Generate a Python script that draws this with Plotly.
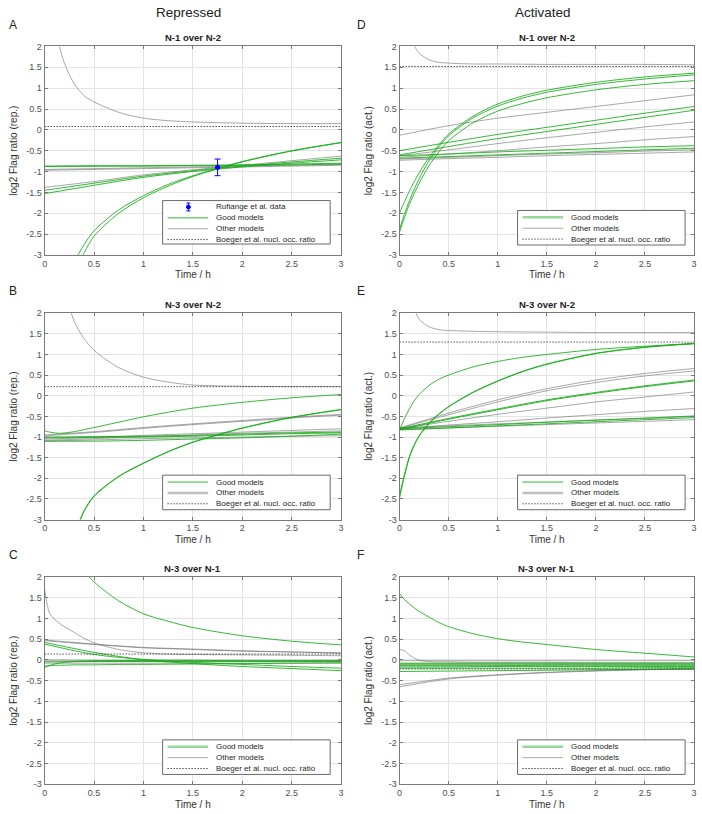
import plotly.graph_objects as go

# ---------------- data ----------------
T_FINE = [0, 0.05, 0.1, 0.15, 0.2, 0.3, 0.4, 0.5, 0.75, 1, 1.25, 1.5, 2, 2.5, 3]
T_COARSE = [0, 0.5, 1, 1.5, 2, 2.5, 3]
T_REF = [0, 3]

X_TICKS = [0, 0.5, 1, 1.5, 2, 2.5, 3]
X_TICK_TEXT = ["0", "0.5", "1", "1.5", "2", "2.5", "3"]
Y_TICKS = [-3, -2.5, -2, -1.5, -1, -0.5, 0, 0.5, 1, 1.5, 2]
Y_TICK_TEXT = ["-3", "-2.5", "-2", "-1.5", "-1", "-0.5", "0", "0.5", "1", "1.5", "2"]

# Panel A: repressed, N-1 over N-2
A_other_fine = [[4.3, 3.3, 2.5, 2.0, 1.6, 1.1, 0.82, 0.67, 0.42, 0.28, 0.22, 0.19, 0.16, 0.15, 0.15]]
A_other_coarse = [
    [-0.97, -0.95, -0.93, -0.91, -0.89, -0.87, -0.85],
    [-0.95, -0.93, -0.91, -0.89, -0.87, -0.85, -0.83],
    [-1.38, -1.24, -1.08, -0.96, -0.85, -0.74, -0.63],
]
A_good_fine = [
    [-9.0, -7.5, -6.2, -5.1, -4.2, -3.2, -2.75, -2.42, -1.92, -1.58, -1.31, -1.1, -0.76, -0.5, -0.3],
    [-9.5, -8.0, -6.7, -5.6, -4.6, -3.5, -2.95, -2.55, -2.0, -1.63, -1.35, -1.12, -0.77, -0.51, -0.31],
]
A_good_coarse = [
    [-0.87, -0.86, -0.86, -0.85, -0.84, -0.82, -0.80],
    [-0.88, -0.875, -0.87, -0.86, -0.85, -0.84, -0.82],
    [-1.45, -1.28, -1.11, -0.98, -0.87, -0.77, -0.68],
    [-1.53, -1.33, -1.14, -1.0, -0.89, -0.80, -0.72],
]
A_ref = 0.08
A_data_t = [1.75]
A_data_y = [-0.9]
A_data_err = [0.2]

# Panel B: repressed, N-3 over N-2
B_other_fine = [[6.0, 5.0, 4.1, 3.3, 2.6, 1.8, 1.38, 1.1, 0.68, 0.45, 0.33, 0.26, 0.23, 0.22, 0.22]]
B_other_coarse = [
    [-0.95, -0.87, -0.77, -0.68, -0.60, -0.52, -0.45],
    [-0.97, -0.89, -0.79, -0.70, -0.62, -0.54, -0.47],
    [-1.05, -1.01, -0.96, -0.92, -0.88, -0.84, -0.80],
    [-1.08, -1.04, -0.99, -0.95, -0.91, -0.88, -0.85],
    [-1.10, -1.07, -1.04, -1.02, -1.0, -0.98, -0.97],
]
B_good_fine = [
    [-0.85, -0.88, -0.9, -0.91, -0.9, -0.87, -0.82, -0.77, -0.64, -0.51, -0.4, -0.3, -0.16, -0.05, 0.03],
    [-10.0, -8.5, -7.0, -5.8, -4.8, -3.4, -2.78, -2.42, -1.95, -1.63, -1.35, -1.12, -0.78, -0.52, -0.33],
    [-10.2, -8.7, -7.2, -5.9, -4.9, -3.45, -2.8, -2.44, -1.96, -1.64, -1.36, -1.13, -0.79, -0.53, -0.34],
]
B_good_coarse = [
    [-1.0, -0.99, -0.98, -0.96, -0.93, -0.9, -0.88],
    [-1.02, -1.01, -1.0, -0.98, -0.95, -0.92, -0.9],
    [-1.1, -1.1, -1.08, -1.05, -1.02, -0.98, -0.93],
]
B_ref = 0.22

# Panel C: repressed, N-3 over N-1
C_other_fine = [[1.7, 1.12, 0.98, 0.88, 0.8, 0.66, 0.52, 0.41, 0.25, 0.17, 0.14, 0.13, 0.12, 0.11, 0.1]]
C_other_coarse = [
    [0.48, 0.38, 0.3, 0.26, 0.22, 0.19, 0.17],
    [0.46, 0.37, 0.29, 0.25, 0.21, 0.19, 0.16],
    [0.0, -0.01, -0.01, -0.01, -0.01, -0.01, -0.01],
    [-0.03, -0.03, -0.03, -0.03, -0.03, -0.03, -0.03],
    [-0.08, -0.08, -0.08, -0.08, -0.08, -0.08, -0.08],
]
C_good_fine = [
    [4.5, 4.0, 3.6, 3.25, 2.95, 2.5, 2.15, 1.88, 1.42, 1.11, 0.93, 0.78, 0.58, 0.45, 0.36],
    [-0.18, -0.14, -0.1, -0.08, -0.06, -0.04, -0.03, -0.02, -0.02, -0.01, -0.01, -0.01, -0.02, -0.02, -0.02],
    [-0.15, -0.14, -0.13, -0.13, -0.13, -0.12, -0.12, -0.12, -0.11, -0.11, -0.105, -0.1, -0.09, -0.08, -0.07],
]
C_good_coarse = [
    [0.42, 0.18, 0.0, -0.09, -0.16, -0.21, -0.26],
    [0.38, 0.13, 0.01, -0.06, -0.11, -0.16, -0.2],
    [-0.05, -0.04, -0.04, -0.04, -0.04, -0.04, -0.04],
]
C_ref = 0.14

# Panel D: activated, N-1 over N-2
D_other_fine = [[3.5, 2.9, 2.38, 2.02, 1.84, 1.68, 1.62, 1.6, 1.58, 1.58, 1.575, 1.57, 1.57, 1.57, 1.56]]
D_other_coarse = [
    [-0.13, 0.1, 0.28, 0.42, 0.56, 0.7, 0.84],
    [-0.62, -0.48, -0.33, -0.19, -0.06, 0.07, 0.19],
    [-0.66, -0.58, -0.5, -0.41, -0.33, -0.24, -0.16],
    [-0.70, -0.66, -0.62, -0.58, -0.55, -0.51, -0.48],
    [-0.73, -0.69, -0.66, -0.62, -0.59, -0.56, -0.53],
]
D_good_fine = [
    [-2.0, -1.72, -1.47, -1.24, -1.03, -0.66, -0.36, -0.1, 0.33, 0.62, 0.81, 0.95, 1.14, 1.27, 1.36],
    [-2.38, -2.02, -1.7, -1.42, -1.17, -0.74, -0.41, -0.14, 0.29, 0.57, 0.76, 0.9, 1.09, 1.22, 1.32],
    [-2.45, -2.1, -1.79, -1.52, -1.28, -0.86, -0.53, -0.26, 0.17, 0.45, 0.63, 0.77, 0.96, 1.09, 1.18],
]
D_good_coarse = [
    [-0.5, -0.3, -0.11, 0.06, 0.23, 0.4, 0.56],
    [-0.6, -0.4, -0.21, -0.04, 0.13, 0.3, 0.47],
    [-0.62, -0.58, -0.53, -0.49, -0.45, -0.41, -0.38],
    [-0.68, -0.64, -0.6, -0.56, -0.52, -0.48, -0.44],
]
D_ref = 1.52

# Panel E: activated, N-3 over N-2
E_other_fine = [[3.8, 3.1, 2.55, 2.12, 1.85, 1.67, 1.6, 1.58, 1.56, 1.55, 1.545, 1.54, 1.53, 1.53, 1.53]]
E_other_coarse = [
    [-0.78, -0.42, -0.1, 0.17, 0.38, 0.54, 0.66],
    [-0.79, -0.46, -0.15, 0.12, 0.32, 0.48, 0.6],
    [-0.8, -0.62, -0.45, -0.3, -0.15, -0.03, 0.09],
    [-0.8, -0.71, -0.63, -0.54, -0.46, -0.38, -0.31],
    [-0.78, -0.73, -0.68, -0.64, -0.59, -0.55, -0.5],
    [-0.82, -0.78, -0.74, -0.7, -0.66, -0.62, -0.58],
]
E_good_fine = [
    [-0.82, -0.55, -0.32, -0.12, 0.03, 0.25, 0.4, 0.5, 0.7, 0.83, 0.93, 1.0, 1.12, 1.2, 1.26],
    [-2.48, -1.95, -1.5, -1.2, -0.98, -0.68, -0.45, -0.27, 0.08, 0.35, 0.58, 0.76, 1.02, 1.17, 1.26],
    [-2.4, -1.9, -1.47, -1.18, -0.96, -0.66, -0.44, -0.26, 0.09, 0.36, 0.59, 0.77, 1.03, 1.18, 1.27],
]
E_good_coarse = [
    [-0.8, -0.55, -0.32, -0.1, 0.08, 0.24, 0.38],
    [-0.82, -0.57, -0.34, -0.12, 0.06, 0.22, 0.36],
    [-0.8, -0.75, -0.7, -0.64, -0.59, -0.54, -0.49],
    [-0.83, -0.78, -0.73, -0.68, -0.63, -0.58, -0.53],
]
E_ref = 1.3

# Panel F: activated, N-3 over N-1
F_other_fine = [[0.25, 0.22, 0.12, 0.04, -0.01, -0.04, -0.05, -0.05, -0.06, -0.06, -0.06, -0.06, -0.07, -0.07, -0.07]]
F_other_coarse = [
    [-0.65, -0.46, -0.37, -0.31, -0.27, -0.24, -0.22],
    [-0.6, -0.44, -0.36, -0.3, -0.26, -0.23, -0.21],
    [-0.02, -0.02, -0.02, -0.02, -0.02, -0.02, -0.02],
    [-0.12, -0.12, -0.12, -0.12, -0.12, -0.12, -0.12],
]
F_good_fine = [[1.6, 1.45, 1.35, 1.25, 1.17, 1.03, 0.9, 0.8, 0.63, 0.51, 0.43, 0.37, 0.25, 0.16, 0.07]]
F_good_coarse = [
    [-0.08, -0.08, -0.08, -0.08, -0.08, -0.08, -0.08],
    [-0.1, -0.1, -0.1, -0.1, -0.1, -0.1, -0.1],
    [-0.14, -0.14, -0.14, -0.13, -0.13, -0.13, -0.13],
    [-0.17, -0.17, -0.16, -0.16, -0.16, -0.16, -0.16],
    [-0.2, -0.2, -0.2, -0.2, -0.2, -0.19, -0.19],
    [-0.28, -0.27, -0.26, -0.25, -0.24, -0.23, -0.22],
]
F_ref = -0.22

PANEL_TITLES = ["N-1 over N-2", "N-3 over N-2", "N-3 over N-1"]
COLUMN_TITLES = ["Repressed", "Activated"]
LETTERS = ["A", "B", "C", "D", "E", "F"]
LEG_DATA = "Rufiange et al. data"
LEG_GOOD = "Good models"
LEG_OTHER = "Other models"
LEG_REF = "Boeger et al. nucl. occ. ratio"

# ---------------- style / layout ----------------
W, H = 702, 814
FONT = "Liberation Sans, Arial, sans-serif"
GREEN = "rgba(20,172,20,0.85)"
GRAY = "rgba(110,110,110,0.6)"
GREEN_THICK = "rgba(60,190,60,0.55)"
GRAY_THICK = "rgba(140,140,140,0.55)"
DOT = "1px,2px"

COLS = [(42, 341), (400, 697)]
ROWS = [(42, 253), (312, 521), (579, 789)]

panels = [
    dict(k=1, col=0, row=0, other_f=A_other_fine, other_c=A_other_coarse, good_f=A_good_fine, good_c=A_good_coarse, ref=A_ref),
    dict(k=2, col=0, row=1, other_f=B_other_fine, other_c=B_other_coarse, good_f=B_good_fine, good_c=B_good_coarse, ref=B_ref),
    dict(k=3, col=0, row=2, other_f=C_other_fine, other_c=C_other_coarse, good_f=C_good_fine, good_c=C_good_coarse, ref=C_ref),
    dict(k=4, col=1, row=0, other_f=D_other_fine, other_c=D_other_coarse, good_f=D_good_fine, good_c=D_good_coarse, ref=D_ref),
    dict(k=5, col=1, row=1, other_f=E_other_fine, other_c=E_other_coarse, good_f=E_good_fine, good_c=E_good_coarse, ref=E_ref),
    dict(k=6, col=1, row=2, other_f=F_other_fine, other_c=F_other_coarse, good_f=F_good_fine, good_c=F_good_coarse, ref=F_ref),
]

# legend sample styles per panel (good, other)
LEG_STYLE = {
    1: ((GREEN, 1), (GRAY, 1)),
    2: ((GREEN, 1), (GRAY_THICK, 2.5)),
    3: ((GREEN_THICK, 2.5), (GRAY, 1)),
    4: ((GREEN_THICK, 2.5), (GRAY, 1)),
    5: ((GREEN, 1), (GRAY_THICK, 2.5)),
    6: ((GREEN_THICK, 2.5), (GRAY, 1)),
}

fig = go.Figure()
layout = dict(
    width=W, height=H, margin=dict(l=0, r=0, t=0, b=0),
    paper_bgcolor="white", plot_bgcolor="white", showlegend=False,
    font=dict(family=FONT, color="#333"),
)
annotations = []
shapes = []


def sfx(k):
    return "" if k == 1 else str(k)


def add_lines(k, grid, curves, color, width):
    for ys in curves:
        fig.add_trace(go.Scatter(
            x=grid, y=ys, mode="lines",
            line=dict(color=color, width=width, shape="spline", smoothing=0.8),
            xaxis="x" + sfx(k), yaxis="y" + sfx(k), hoverinfo="skip", showlegend=False))


for p in panels:
    k = p["k"]
    x0, x1 = COLS[p["col"]]
    yt, yb = ROWS[p["row"]]
    s = sfx(k)
    common = dict(showline=True, linecolor="#7a7a7a", linewidth=1, mirror="ticks",
                  ticks="inside", ticklen=3, tickcolor="#7a7a7a",
                  showgrid=True, gridcolor="#e4e4e4", gridwidth=1, zeroline=False,
                  tickfont=dict(family=FONT, size=9, color="#505050"),
                  fixedrange=True)
    layout["xaxis" + s] = dict(common, domain=[x0 / W, x1 / W], range=[0, 3],
                               tickvals=X_TICKS, ticktext=X_TICK_TEXT,
                               anchor="y" + s,
                               title=dict(text="Time / h", font=dict(size=10, color="#333"), standoff=3))
    ylab = "log2 Flag ratio (rep.)" if p["col"] == 0 else "log2 Flag ratio (act.)"
    layout["yaxis" + s] = dict(common, domain=[1 - yb / H, 1 - yt / H], range=[-3, 2],
                               tickvals=Y_TICKS, ticktext=Y_TICK_TEXT,
                               anchor="x" + s,
                               title=dict(text=ylab, font=dict(size=10, color="#333"), standoff=6))

    add_lines(k, T_FINE, p["other_f"], GRAY, 1)
    add_lines(k, T_COARSE, p["other_c"], GRAY, 1)
    add_lines(k, T_COARSE, p["good_c"], GREEN, 1)
    add_lines(k, T_FINE, p["good_f"], GREEN, 1)
    fig.add_trace(go.Scatter(x=T_REF, y=[p["ref"], p["ref"]], mode="lines",
                             line=dict(color="black", width=1, dash=DOT),
                             xaxis="x" + s, yaxis="y" + s, hoverinfo="skip", showlegend=False))
    if k == 1:
        fig.add_trace(go.Scatter(x=A_data_t, y=A_data_y, mode="markers",
                                 marker=dict(color="#0000ff", size=5),
                                 error_y=dict(type="data", array=A_data_err, color="#0000ff",
                                              thickness=1, width=3),
                                 xaxis="x", yaxis="y", hoverinfo="skip", showlegend=False))

    # subplot title
    annotations.append(dict(text="<b>" + PANEL_TITLES[p["row"]] + "</b>",
                            xref="x" + s + " domain", yref="y" + s + " domain",
                            x=0.5, y=1, xanchor="center", yanchor="bottom", yshift=1,
                            showarrow=False, font=dict(family=FONT, size=9.5, color="#222")))
    # panel letter
    annotations.append(dict(text=LETTERS[k - 1], xref="paper", yref="paper",
                            x=(4 if p["col"] == 0 else 355) / W, y=1 - (yt - 22) / H,
                            xanchor="left", yanchor="middle", showarrow=False,
                            font=dict(family=FONT, size=12, color="#222")))

    # legend (drawn as decorations inside the axes)
    pw, ph = x1 - x0, yb - yt
    n = 4 if k == 1 else 3
    bh = 44 if n == 4 else 35
    bl, br = x0 + 119, x0 + 288
    bbot = yb - 11 if n == 4 else yb - 10
    btop = bbot - bh
    fx = lambda px: (px - x0) / pw
    fy = lambda py: (yb - py) / ph
    xr, yr = "x" + s + " domain", "y" + s + " domain"
    shapes.append(dict(type="rect", xref=xr, yref=yr, x0=fx(bl), x1=fx(br), y0=fy(bbot), y1=fy(btop),
                       line=dict(color="#6a6a6a", width=1), fillcolor="white", layer="above"))
    (gc, gw), (oc, ow) = LEG_STYLE[k]
    entries = []
    if k == 1:
        entries.append(("data", LEG_DATA))
    entries += [("good", LEG_GOOD), ("other", LEG_OTHER), ("ref", LEG_REF)]
    for i, (kind, label) in enumerate(entries):
        cy = btop + (6.5 if n == 4 else 7) + 11 * i
        if kind == "data":
            cx = bl + 26
            shapes.append(dict(type="line", xref=xr, yref=yr, x0=fx(cx), x1=fx(cx),
                               y0=fy(cy - 4), y1=fy(cy + 4), line=dict(color="#0000ff", width=1), layer="above"))
            for dy in (-4, 4):
                shapes.append(dict(type="line", xref=xr, yref=yr, x0=fx(cx - 2), x1=fx(cx + 2),
                                   y0=fy(cy + dy), y1=fy(cy + dy), line=dict(color="#0000ff", width=1), layer="above"))
            shapes.append(dict(type="circle", xref=xr, yref=yr, x0=fx(cx - 2), x1=fx(cx + 2),
                               y0=fy(cy + 2), y1=fy(cy - 2), line=dict(color="#0000ff", width=1),
                               fillcolor="#0000ff", layer="above"))
        else:
            if kind == "good":
                ln = dict(color=gc, width=gw)
            elif kind == "other":
                ln = dict(color=oc, width=ow)
            else:
                ln = dict(color="black", width=1, dash=DOT)
            shapes.append(dict(type="line", xref=xr, yref=yr, x0=fx(bl + 5), x1=fx(bl + 46),
                               y0=fy(cy), y1=fy(cy), line=ln, layer="above"))
        annotations.append(dict(text=label, xref=xr, yref=yr, x=fx(bl + 52), y=fy(cy),
                                xanchor="left", yanchor="middle", showarrow=False,
                                font=dict(family=FONT, size=8, color="#262626")))

# column titles
for i, t in enumerate(COLUMN_TITLES):
    cx = (COLS[i][0] + COLS[i][1]) / 2 - 4
    annotations.append(dict(text=t, xref="paper", yref="paper", x=cx / W, y=1 - 8 / H,
                            xanchor="center", yanchor="middle", showarrow=False,
                            font=dict(family=FONT, size=13.5, color="#222")))

layout["annotations"] = annotations
layout["shapes"] = shapes
fig.update_layout(**layout)
fig.write_html("out.html", config={"displayModeBar": False, "staticPlot": True},
               post_script="document.body.style.margin='0';document.body.style.overflow='hidden';")
